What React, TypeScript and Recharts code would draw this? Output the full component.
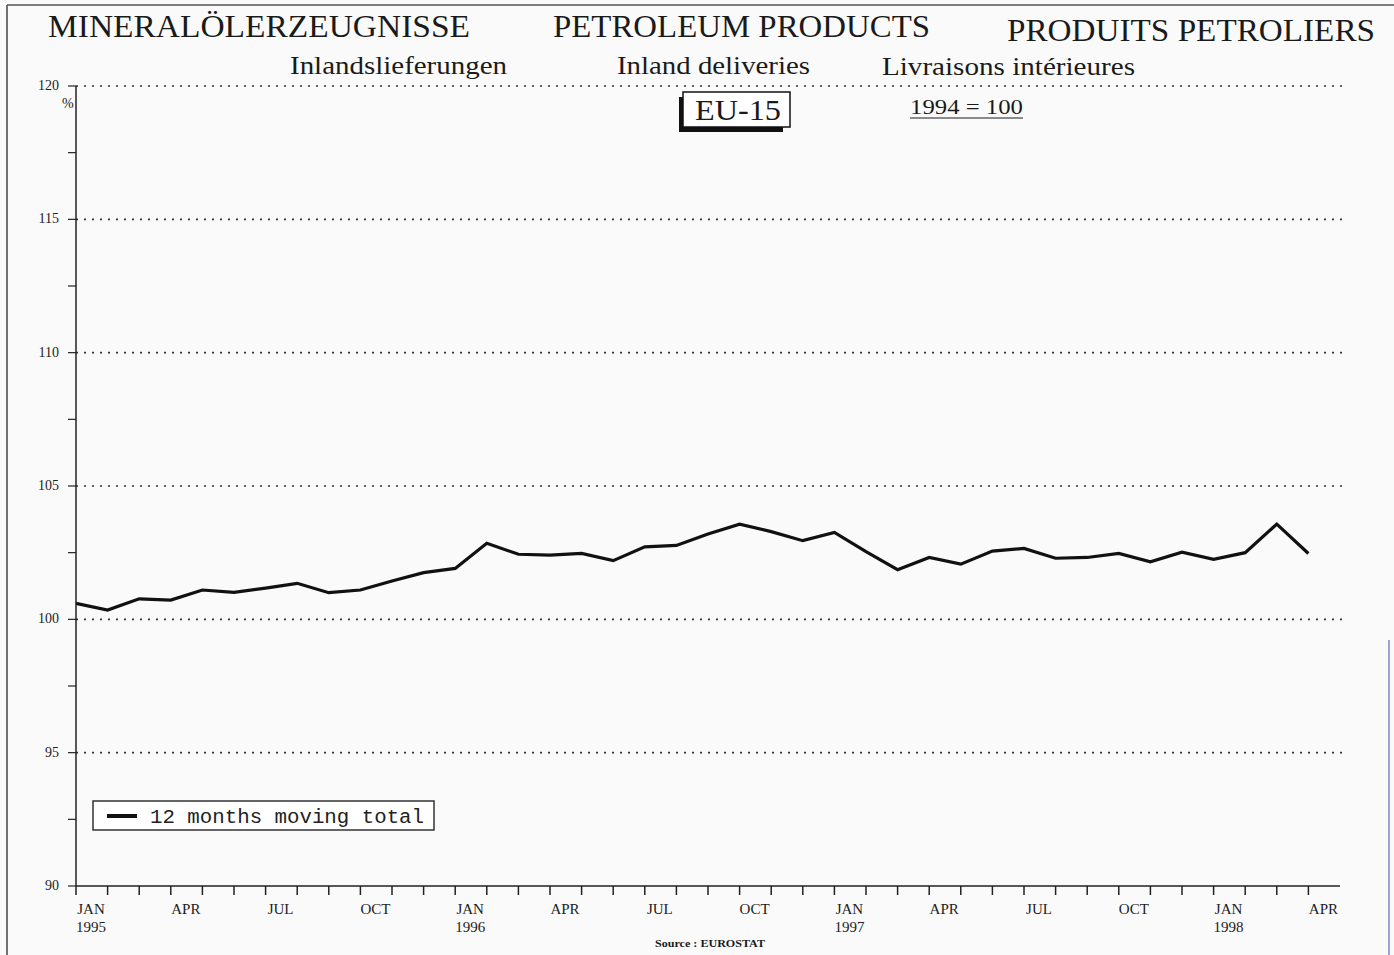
import React from 'react';
import { LineChart, Line, XAxis, YAxis, ReferenceLine } from 'recharts';

// 12 months moving total, EU-15, 1994 = 100 (Jan 1995 .. Apr 1998)
const MONTHS = ['JAN', 'FEB', 'MAR', 'APR', 'MAY', 'JUN', 'JUL', 'AUG', 'SEP', 'OCT', 'NOV', 'DEC'];
const START_YEAR = 1995;
const MOVING_TOTAL = [
  100.6, 100.35, 100.77, 100.72, 101.1, 101.01, 101.17, 101.35, 101.0, 101.1, 101.44, 101.75,
  101.91, 102.85, 102.44, 102.41, 102.47, 102.2, 102.72, 102.77, 103.2, 103.57, 103.29, 102.95,
  103.26, 102.54, 101.86, 102.32, 102.07, 102.56, 102.66, 102.29, 102.32, 102.47, 102.16, 102.52,
  102.25, 102.5, 103.57, 102.47,
];
const Y_TICKS = [90, 92.5, 95, 97.5, 100, 102.5, 105, 107.5, 110, 112.5, 115, 117.5, 120];
const GRID_LEVELS = [95, 100, 105, 110, 115, 120];
const LABELLED_MONTHS = ['JAN', 'APR', 'JUL', 'OCT'];

const data = MOVING_TOTAL.map((v, i) => ({
  idx: i,
  month: MONTHS[i % 12],
  year: START_YEAR + Math.floor(i / 12),
  value: v,
}));

const SERIF = "'Liberation Serif', 'Times New Roman', serif";

const MonthTick = (props: any) => {
  const { x, y, payload } = props;
  const d = data[payload.value];
  if (!d || !LABELLED_MONTHS.includes(d.month)) return null;
  return (
    <g transform={`translate(${x + 15},${y})`}>
      <text textAnchor="middle" y={17} fontFamily={SERIF} fontSize={15} fill="#222">{d.month}</text>
      {d.month === 'JAN' && (
        <text textAnchor="middle" y={35} fontFamily={SERIF} fontSize={15} fill="#222">{d.year}</text>
      )}
    </g>
  );
};

const ValueTick = (props: any) => {
  const { x, y, payload } = props;
  if (payload.value % 5 !== 0) return null;
  return (
    <text x={x} y={y + 4} textAnchor="end" fontFamily={SERIF} fontSize={14} fill="#222">
      {payload.value}
    </text>
  );
};

export default function App() {
  return (
    <div style={{ position: 'absolute', left: 0, top: 0, width: 1394, height: 955, background: '#fafafa', overflow: 'hidden' }}>
      <LineChart width={1394} height={955} data={data} margin={{ top: 86, right: 54, bottom: 9, left: 16 }}>
        <XAxis
          dataKey="idx"
          type="number"
          domain={[0, 40]}
          ticks={data.map((d) => d.idx)}
          interval={0}
          tickSize={9}
          tickMargin={2}
          height={60}
          tick={<MonthTick />}
          axisLine={{ stroke: '#222', strokeWidth: 1.5 }}
          tickLine={{ stroke: '#222', strokeWidth: 1.5 }}
        />
        <YAxis
          type="number"
          domain={[90, 120]}
          ticks={Y_TICKS}
          interval={0}
          width={60}
          tickSize={8}
          tickMargin={9}
          tick={<ValueTick />}
          axisLine={{ stroke: '#222', strokeWidth: 1.5 }}
          tickLine={{ stroke: '#222', strokeWidth: 1.2 }}
        />
        {GRID_LEVELS.map((lvl) => (
          <ReferenceLine
            key={lvl}
            segment={[{ x: 0, y: lvl }, { x: 40.15, y: lvl }]}
            ifOverflow="visible"
            stroke="#333"
            strokeWidth={1.6}
            strokeDasharray="2 6"
          />
        ))}
        <Line
          type="linear"
          dataKey="value"
          stroke="#111"
          strokeWidth={3.2}
          dot={false}
          isAnimationActive={false}
        />
      </LineChart>

      <svg width={1394} height={955} style={{ position: 'absolute', left: 0, top: 0, pointerEvents: 'none' }}>
        {/* frame */}
        <line x1={7} y1={5} x2={7} y2={955} stroke="#444" strokeWidth={1.5} />
        <line x1={7} y1={5} x2={1394} y2={5} stroke="#555" strokeWidth={1.5} />
        <line x1={1389} y1={640} x2={1389} y2={955} stroke="#6a6aa8" strokeWidth={1.2} />

        <g fontFamily={SERIF} fill="#1a1a1a">
          <text x={48} y={37} fontSize={32} textLength={422} lengthAdjust="spacingAndGlyphs">MINERALÖLERZEUGNISSE</text>
          <text x={553} y={37} fontSize={32} textLength={377} lengthAdjust="spacingAndGlyphs">PETROLEUM PRODUCTS</text>
          <text x={1007} y={41} fontSize={32} textLength={368} lengthAdjust="spacingAndGlyphs">PRODUITS PETROLIERS</text>

          <text x={290} y={74} fontSize={25} textLength={217} lengthAdjust="spacingAndGlyphs">Inlandslieferungen</text>
          <text x={617} y={74} fontSize={25} textLength={193} lengthAdjust="spacingAndGlyphs">Inland deliveries</text>
          <text x={882} y={75} fontSize={25} textLength={253} lengthAdjust="spacingAndGlyphs">Livraisons intérieures</text>

          <rect x={679} y={97} width={104} height={35} fill="#111" />
          <rect x={683} y={92} width={107} height={35} fill="#fff" stroke="#111" strokeWidth={1.5} />
          <text x={695} y={120} fontSize={29} textLength={86} lengthAdjust="spacingAndGlyphs">EU-15</text>

          <text x={910} y={114} fontSize={22} textLength={113} lengthAdjust="spacingAndGlyphs">1994 = 100</text>
          <line x1={910} y1={118} x2={1023} y2={118} stroke="#1a1a1a" strokeWidth={1.2} />

          <text x={62} y={108} fontSize={14}>%</text>

          <text x={655} y={947} fontSize={11} fontWeight="bold" textLength={110} lengthAdjust="spacingAndGlyphs">Source : EUROSTAT</text>
        </g>

        {/* legend */}
        <rect x={93} y={801} width={341} height={29} fill="#fff" stroke="#333" strokeWidth={1.5} />
        <line x1={107} y1={816} x2={137} y2={816} stroke="#111" strokeWidth={4} />
        <text x={150} y={823} fontFamily="'Liberation Mono', 'Courier New', monospace" fontSize={20} fill="#222" textLength={274} lengthAdjust="spacingAndGlyphs">
          12 months moving total
        </text>
      </svg>
    </div>
  );
}
